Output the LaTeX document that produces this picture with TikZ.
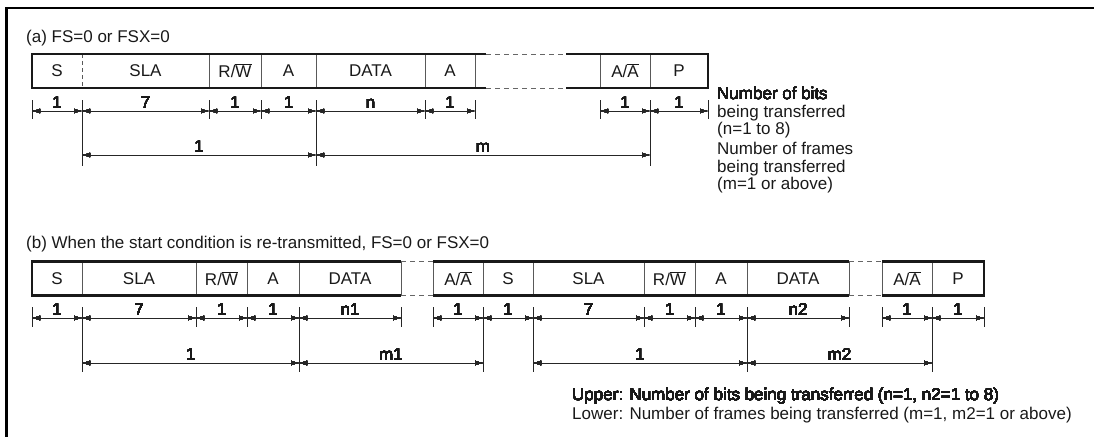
\documentclass[tikz,border=0pt]{standalone}
\usepackage{fontspec}
\setmainfont{Liberation Sans}
\usetikzlibrary{arrows.meta,calc}
\newcommand\fsz{\fontsize{17}{19}\selectfont}
\newcommand\fld[5]{\node[fld, minimum width={(#3-#2)*1pt}] (#1) at ({(#2+#3)/2},#4) {#5};}
\newcommand\dseg[4]{\draw[dim] (#1 |- 0,#3) -- (#2 |- 0,#3) node[midway, lab] {#4};}
\newcommand\tk[3]{\draw[tkl] (#1 |- 0,#2) -- (#1 |- 0,#3);}
\begin{document}
\begin{tikzpicture}[x=1pt,y=-1pt,
  every node/.style={font=\fsz, text=black!90},
  fld/.style={inner sep=0pt, outer sep=0pt, minimum height=34pt},
  outl/.style={line width=2.2pt, black!90},
  divl/.style={line width=0.9pt, black!65},
  gapl/.style={line width=0.9pt, black!60, dash pattern=on 5pt off 4pt},
  dim/.style={line width=0.8pt, black!85, {Latex[length=8pt,width=4.5pt]}-{Latex[length=8pt,width=4.5pt]}},
  tkl/.style={line width=0.8pt, black!85},
  lab/.style={anchor=base, inner sep=0pt, yshift=3pt},
  txt/.style={anchor=base west, inner sep=0pt},
]
\useasboundingbox (0,0) rectangle (1094,436);
% frame
\draw[line width=2.5pt] (6.5,437) -- (6.5,8) -- (1095,8);

% ---------------- (a) ----------------
\node[txt] (ta) at (26,43) {(a) FS=0 or FSX=0};
\fld{aS}{32}{82}{71}{S}
\fld{aSLA}{82}{209}{71}{SLA}
\fld{aRW}{209}{261}{71}{R/$\overline{\hbox{W}}$}
\fld{aA}{261}{316}{71}{A}
\fld{aDATA}{316}{425}{71}{DATA}
\fld{aAck}{425}{475}{71}{A}
\fld{aAA}{600}{650}{71}{A/$\overline{\hbox{A}}$}
\fld{aP}{650}{708}{71}{P}
\coordinate (aG1) at (486,54); \coordinate (aG1b) at (486,88);
\coordinate (aG2) at (566,54); \coordinate (aG2b) at (566,88);
\draw[divl, dash pattern=on 4pt off 3pt] (aS.north east) -- (aS.south east);
\foreach \n in {aSLA,aRW,aA,aDATA,aAck,aAA} \draw[divl] (\n.north east) -- (\n.south east);
\draw[divl] (aAA.north west) -- (aAA.south west);
\draw[gapl] (aG1) -- (aG2);
\draw[gapl] (aG1b) -- (aG2b);
\draw[outl] (aG1) -- (aS.north west) -- (aS.south west) -- (aG1b);
\draw[outl] (aG2) -- (aP.north east) -- (aP.south east) -- (aG2b);
% ticks
\foreach \n in {aS.west,aSLA.east,aRW.east,aDATA.east,aAck.east,aAA.west,aP.east} \tk{\n}{100}{119}
\foreach \n in {aS.east,aA.east,aAA.east} \tk{\n}{100}{166}
% dims
\dseg{aS.west}{aS.east}{111}{1}
\dseg{aSLA.west}{aSLA.east}{111}{7}
\dseg{aRW.west}{aRW.east}{111}{1}
\dseg{aA.west}{aA.east}{111}{1}
\dseg{aDATA.west}{aDATA.east}{111}{n}
\dseg{aAck.west}{aAck.east}{111}{1}
\dseg{aAA.west}{aAA.east}{111}{1}
\dseg{aP.west}{aP.east}{111}{1}
\dseg{aSLA.west}{aA.east}{155}{1}
\dseg{aDATA.west}{aAA.east}{155}{m}
% notes
\node[txt] (ra1) at (717,99) {Number of bits};
\node[txt] (ra2) at (717,117) {being transferred};
\node[txt] (ra3) at (717,134) {(n=1 to 8)};
\node[txt] (ra4) at (717,154) {Number of frames};
\node[txt] (ra5) at (717,172) {being transferred};
\node[txt] (ra6) at (717,189) {(m=1 or above)};

% ---------------- (b) ----------------
\node[txt] (tb) at (26,248) {(b) When the start condition is re-transmitted, FS=0 or FSX=0};
\def\yb{278.5}
\fld{bS}{32}{82}{\yb}{S}
\fld{bSLA}{82}{196}{\yb}{SLA}
\fld{bRW}{196}{247}{\yb}{R/$\overline{\hbox{W}}$}
\fld{bA}{247}{299}{\yb}{A}
\fld{bDATA}{299}{401}{\yb}{DATA}
\fld{bAA}{433}{483}{\yb}{A/$\overline{\hbox{A}}$}
\fld{bS2}{483}{533}{\yb}{S}
\fld{bSLA2}{533}{644}{\yb}{SLA}
\fld{bRW2}{644}{695}{\yb}{R/$\overline{\hbox{W}}$}
\fld{bA2}{695}{747}{\yb}{A}
\fld{bDATA2}{747}{849}{\yb}{DATA}
\fld{bAA2}{882}{932}{\yb}{A/$\overline{\hbox{A}}$}
\fld{bP}{932}{984}{\yb}{P}
\foreach \n in {bS,bSLA,bRW,bA,bDATA,bAA,bS2,bSLA2,bRW2,bA2,bDATA2,bAA2} \draw[divl] (\n.north east) -- (\n.south east);
\foreach \n in {bAA,bAA2} \draw[divl] (\n.north west) -- (\n.south west);
\draw[gapl] (bDATA.north east) -- (bAA.north west);
\draw[gapl] (bDATA.south east) -- (bAA.south west);
\draw[gapl] (bDATA2.north east) -- (bAA2.north west);
\draw[gapl] (bDATA2.south east) -- (bAA2.south west);
\draw[outl] (bDATA.north east) -- (bS.north west) -- (bS.south west) -- (bDATA.south east);
\draw[outl] (bAA.north west) -- (bDATA2.north east);
\draw[outl] (bAA.south west) -- (bDATA2.south east);
\draw[outl] (bAA2.north west) -- (bP.north east) -- (bP.south east) -- (bAA2.south west);
% ticks
\foreach \n in {bS.west,bSLA.east,bRW.east,bDATA.east,bAA.west,bSLA2.east,bRW2.east,bDATA2.east,bAA2.west,bP.east} \tk{\n}{307}{327}
\foreach \n in {bS.east,bA.east,bAA.east,bS2.east,bA2.east,bAA2.east} \tk{\n}{307}{372}
% dims
\dseg{bS.west}{bS.east}{318}{1}
\dseg{bSLA.west}{bSLA.east}{318}{7}
\dseg{bRW.west}{bRW.east}{318}{1}
\dseg{bA.west}{bA.east}{318}{1}
\dseg{bDATA.west}{bDATA.east}{318}{n1}
\dseg{bAA.west}{bAA.east}{318}{1}
\dseg{bS2.west}{bS2.east}{318}{1}
\dseg{bSLA2.west}{bSLA2.east}{318}{7}
\dseg{bRW2.west}{bRW2.east}{318}{1}
\dseg{bA2.west}{bA2.east}{318}{1}
\dseg{bDATA2.west}{bDATA2.east}{318}{n2}
\dseg{bAA2.west}{bAA2.east}{318}{1}
\dseg{bP.west}{bP.east}{318}{1}
\dseg{bSLA.west}{bA.east}{363}{1}
\dseg{bDATA.west}{bAA.east}{363}{m1}
\dseg{bSLA2.west}{bA2.east}{363}{1}
\dseg{bDATA2.west}{bAA2.east}{363}{m2}
% notes
\node[txt] (rb1) at (572,400) {Upper: Number of bits being transferred (n=1, n2=1 to 8)};
\node[txt] (rb2) at (572,419) {Lower: Number of frames being transferred (m=1, m2=1 or above)};
\end{tikzpicture}
\end{document}
